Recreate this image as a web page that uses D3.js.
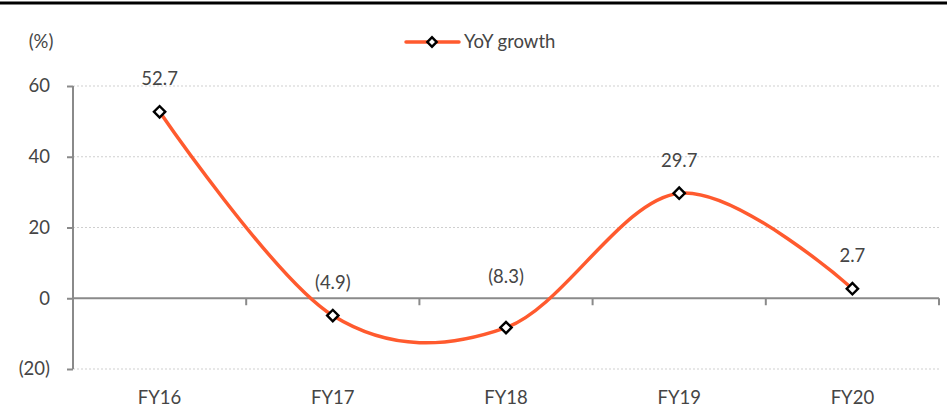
<!DOCTYPE html>
<html><head><meta charset="utf-8">
<script src="https://cdn.jsdelivr.net/npm/d3@7"></script>
<style>
body{margin:0;background:#fff;}
svg{display:block;font-family:Lato,"Open Sans",sans-serif;}
</style></head>
<body><svg id="c" width="949" height="409"></svg>
<script>
const categories = ["FY16","FY17","FY18","FY19","FY20"];
const growth = [52.7, -4.9, -8.3, 29.7, 2.7];
const yTicks = [-20, 0, 20, 40, 60];
const seriesName = "YoY growth";
const unitLabel = "(%)";

const svg = d3.select("#c");
const lineColor = "#FF5A2E";
const textColor = "#454545";
const fs = 18.5;
const fmt = v => v < 0 ? "(" + Math.abs(v).toFixed(1) + ")" : v.toFixed(1);
const fmtTick = v => v < 0 ? "(" + Math.abs(v) + ")" : String(v);

const x = d3.scaleBand().domain(categories).range([73, 939]);
const y = d3.scaleLinear().domain([-20, 60]).range([369, 86]);

// top rule
svg.append("line").attr("x1",0).attr("x2",947).attr("y1",3).attr("y2",3)
  .attr("stroke","#000").attr("stroke-width",3);

// gridlines
svg.append("g").selectAll("line").data(yTicks.filter(t => t !== 0)).join("line")
  .attr("x1",73).attr("x2",939).attr("y1",d=>y(d)).attr("y2",d=>y(d))
  .attr("stroke","#cfcfcf").attr("stroke-width",1).attr("stroke-dasharray","2,2");

// y axis
const yAxis = svg.append("g").attr("transform","translate(73,0)")
  .call(d3.axisLeft(y).tickValues(yTicks).tickFormat(fmtTick).tickSize(6).tickPadding(17));
yAxis.select(".domain").attr("stroke","#8a8a8a").attr("stroke-width",2).attr("d","M0,"+y(-20)+"V"+y(60));
yAxis.selectAll(".tick line").attr("stroke","#8a8a8a").attr("stroke-width",2);
yAxis.selectAll(".tick text").attr("fill",textColor).attr("font-size",fs).attr("font-family","Lato,sans-serif");

// x axis at zero
const xAxis = svg.append("g").attr("transform","translate(0,"+y(0)+")");
xAxis.append("line").attr("x1",73).attr("x2",939).attr("stroke","#8a8a8a").attr("stroke-width",2);
const bounds = categories.slice(1).map(c => x(c)).concat([939]);
xAxis.selectAll(".bt").data(bounds).join("line").attr("class","bt")
  .attr("x1",d=>d).attr("x2",d=>d).attr("y1",0).attr("y2",7)
  .attr("stroke","#8a8a8a").attr("stroke-width",2);

// x labels
svg.append("g").selectAll("text").data(categories).join("text")
  .attr("x",d=>x(d)+x.bandwidth()/2).attr("y",404)
  .attr("text-anchor","middle").attr("fill",textColor).attr("font-size",fs).text(d=>d);

// unit label
svg.append("text").attr("x",41).attr("y",42).attr("dy","0.35em").attr("text-anchor","middle")
  .attr("fill",textColor).attr("font-size",fs).text(unitLabel);

// line
const pts = categories.map((c,i) => [x(c)+x.bandwidth()/2, y(growth[i])]);
svg.append("path").datum(pts)
  .attr("d", d3.line().curve(d3.curveCardinal.tension(0)))
  .attr("fill","none").attr("stroke",lineColor).attr("stroke-width",3.5);

// markers
svg.append("g").selectAll("path").data(pts).join("path")
  .attr("transform",d=>"translate("+d[0]+","+d[1]+") rotate(45)")
  .attr("d", d3.symbol().type(d3.symbolSquare).size(64))
  .attr("fill","#fff").attr("stroke","#000").attr("stroke-width",2.4);

// data labels
svg.append("g").selectAll("text").data(pts).join("text")
  .attr("x",d=>d[0])
  .attr("y",d=>{ let cy = d[1]-33; if (Math.abs(cy - y(0)) < 12) cy = y(0) - 22; return cy; })
  .attr("dy","0.35em").attr("text-anchor","middle").attr("fill",textColor).attr("font-size",fs)
  .text((d,i)=>fmt(growth[i]));

// legend
const lg = svg.append("g");
lg.append("line").attr("x1",406).attr("x2",459).attr("y1",42).attr("y2",42)
  .attr("stroke",lineColor).attr("stroke-width",3.5).attr("stroke-linecap","round");
lg.append("path").attr("transform","translate(432,42) rotate(45)")
  .attr("d", d3.symbol().type(d3.symbolSquare).size(44))
  .attr("fill","#fff").attr("stroke","#000").attr("stroke-width",2.4);
lg.append("text").attr("x",464).attr("y",42).attr("dy","0.35em").attr("fill",textColor)
  .attr("font-size",fs).text(seriesName);
</script></body></html>
